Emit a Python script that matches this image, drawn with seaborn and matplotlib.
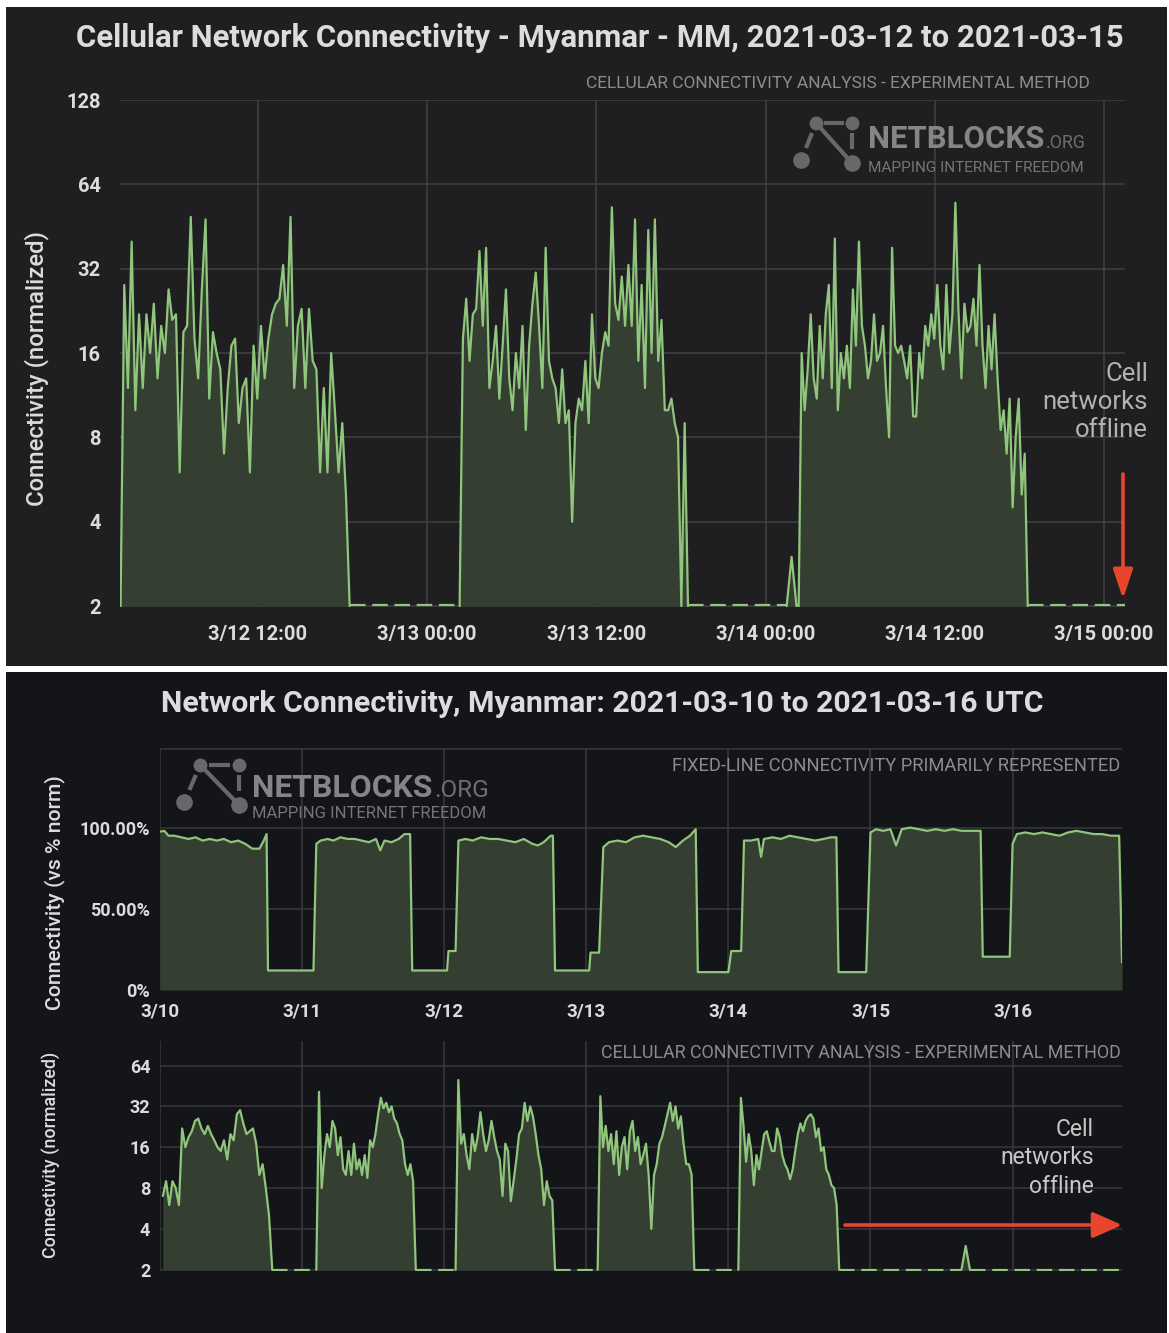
import numpy as np
import matplotlib
matplotlib.use('Agg')
import matplotlib.pyplot as plt
import seaborn as sns
from matplotlib import font_manager as fm
from matplotlib.lines import Line2D
from matplotlib.patches import Rectangle, FancyArrowPatch

# ---------------- data ----------------
# top chart: hours since 2021-03-12 00:00, cellular connectivity (normalized, log2 axis)
top_tick_hours = [12, 24, 36, 48, 60, 72]
top_tick_labels = ['3/12 12:00', '3/13 00:00', '3/13 12:00', '3/14 00:00', '3/14 12:00', '3/15 00:00']
top_yticks = [2, 4, 8, 16, 32, 64, 128]

day1_span = (2.25, 18.5)
day1_vals = [2, 28, 12, 40, 10, 22, 12, 22, 16, 24, 13, 20, 16, 27, 21, 22, 6, 19, 20, 49, 18, 13, 27, 48,
             11, 19, 16, 14, 7, 12, 17, 18, 9, 12, 13, 6, 17, 11, 20, 13, 18, 22, 24, 25, 33, 20, 49, 12,
             20, 23, 12, 23, 15, 14, 6, 12, 6, 16, 10, 6, 9, 5, 2]
day2_span = (26.3, 42.5)
day2_vals = [2, 18, 25, 15, 22, 23, 37, 20, 38, 12, 15, 20, 11, 17, 27, 13, 10, 16, 12, 20, 8.5, 17, 24, 31,
             20, 12, 38, 15, 13, 12, 9, 14, 9, 10, 4, 9, 11, 10, 15, 9, 22, 13, 12, 16, 19, 17, 53, 24, 21,
             30, 20, 33, 20, 48, 15, 28, 12, 44, 16, 48, 15, 21, 10, 10, 11, 9, 8, 2, 9, 2]
day3_span = (50.35, 66.6)
day3_vals = [2, 16, 10, 14, 22, 13, 11, 20, 13, 22, 28, 12, 41, 10, 16, 13, 17, 12, 27, 17, 40, 20, 17, 13,
             15, 22, 15, 16, 20, 12, 8, 38, 17, 16, 17, 15, 13, 17, 9.5, 9.5, 16, 13, 20, 17, 22, 18, 28,
             17, 14, 28, 16, 22, 55, 23, 13, 24, 19, 20, 25, 17, 33, 17, 12, 20, 14, 22, 13, 8.5, 10, 7,
             11, 4.5, 8, 11, 5, 7, 2]
top_bump_hours = [49.5, 49.85, 50.2]
top_bump_vals = [2, 3, 2]
top_offline = [(2.21, 2.25), (18.5, 26.3), (42.5, 49.5), (50.2, 50.35), (66.6, 73.5)]

# bottom charts: days since 2021-03-10 00:00
bot_tick_days = [0, 1, 2, 3, 4, 5, 6]
bot_tick_labels = ['3/10', '3/11', '3/12', '3/13', '3/14', '3/15', '3/16']

fixed_days = [0.00, 0.03, 0.06, 0.10, 0.15, 0.20, 0.25, 0.30, 0.35, 0.40, 0.45, 0.50, 0.55, 0.60, 0.65, 0.70, 0.73, 0.75, 0.76,
              1.08, 1.10, 1.13, 1.18, 1.22, 1.27, 1.32, 1.37, 1.42, 1.47, 1.52, 1.55, 1.58, 1.63, 1.68, 1.72, 1.76, 1.775,
              2.02, 2.03, 2.08, 2.10, 2.15, 2.20, 2.26, 2.32, 2.38, 2.44, 2.50, 2.56, 2.62, 2.66, 2.70, 2.75, 2.765, 2.78,
              3.02, 3.03, 3.09, 3.12, 3.16, 3.22, 3.28, 3.34, 3.40, 3.46, 3.52, 3.58, 3.63, 3.68, 3.73, 3.77, 3.785,
              4.00, 4.02, 4.09, 4.11, 4.16, 4.21, 4.23, 4.25, 4.31, 4.37, 4.43, 4.49, 4.55, 4.61, 4.67, 4.72, 4.76, 4.775,
              4.97, 5.00, 5.04, 5.09, 5.14, 5.18, 5.22, 5.28, 5.34, 5.40, 5.46, 5.52, 5.58, 5.64, 5.70, 5.775, 5.79,
              5.98, 6.00, 6.03, 6.09, 6.15, 6.21, 6.27, 6.33, 6.39, 6.45, 6.51, 6.57, 6.63, 6.69, 6.75, 6.77]
fixed_pct = [97.5, 98, 95, 95, 94, 93, 94, 92, 93, 92, 93, 91, 92, 90, 87, 87, 92, 96, 12,
             12, 90, 92, 93, 92, 94, 93, 93, 92, 91, 93, 86, 92, 91, 93, 96, 96, 12,
             12, 24, 24, 92, 93, 92, 94, 93, 93, 92, 91, 93, 90, 89, 91, 95, 95, 12,
             12, 23, 23, 88, 91, 92, 91, 94, 95, 94, 93, 91, 88, 92, 95, 99, 11,
             11, 24, 24, 92, 92, 93, 82, 93, 94, 93, 95, 94, 93, 92, 93, 94, 94, 11,
             11, 97, 99, 98, 99, 89, 99, 100, 99, 98, 99, 98, 99, 98, 98, 98, 20.5,
             20.5, 90, 96, 97, 96, 97, 96, 95, 97, 98, 97, 96, 96, 95, 95, 17]

cell_d1_span = (0.02, 0.79)
cell_d1 = [7, 9, 6, 9, 8, 6, 22, 16, 19, 21, 25, 26, 22, 20, 23, 20, 18, 16, 15, 18, 13, 20, 18, 28, 30, 24,
           20, 21, 22, 17, 10, 12, 8, 5, 2]
cell_d2_span = (1.10, 1.80)
cell_d2 = [2, 41, 8, 14, 20, 16, 25, 22, 14, 19, 11, 10, 15, 10, 17, 11, 13, 10, 14, 9.5, 18, 16, 20, 28, 37,
           31, 34, 29, 32, 26, 24, 20, 18, 12, 10, 12, 9, 2]
cell_d3_span = (2.08, 2.78)
cell_d3 = [2, 50, 17, 20, 14, 11, 20, 15, 19, 29, 20, 15, 18, 25, 19, 15, 13, 7, 17, 15, 6.4, 9, 13, 20, 22,
           34, 25, 32, 27, 20, 14, 11, 6, 9, 7, 6.5, 2]
cell_d4_span = (3.08, 3.76)
cell_d4 = [2, 38, 16, 23, 15, 20, 12, 21, 10, 16, 19, 11, 21, 25, 15, 19, 12, 14, 17, 10, 4, 10, 12, 17, 19,
           23, 28, 34, 25, 32, 22, 27, 17, 12, 12, 10, 2]
cell_d5_span = (4.07, 4.78)
cell_d5 = [2, 37, 23, 12.5, 20, 15, 8.4, 14, 11, 15, 20, 21, 17.5, 15, 15, 22, 19, 14, 12, 11, 9.3, 11, 15, 20,
           24, 21, 25, 27, 28, 26, 19, 22, 15, 16, 11, 10, 8.4, 8, 6, 2]
bot_bump_days = [5.64, 5.67, 5.70]
bot_bump_vals = [2, 3, 2]
bot_offline = [(0.79, 1.10), (1.80, 2.08), (2.78, 3.08), (3.76, 4.07), (4.78, 5.64), (5.70, 6.77)]
bot_yticks = [2, 4, 8, 16, 32, 64]

# ---------------- style ----------------
sns.set_style('dark')
plt.rcParams['font.family'] = ['Roboto', 'DejaVu Sans']
names = {f.name for f in fm.fontManager.ttflist}
NARROW = 'Liberation Sans Narrow' if 'Liberation Sans Narrow' in names else 'Roboto'

TOP_BG = '#1f1f21'
BOT_BG = '#141518'
LINE = '#8fc57c'
FILL = '#353f31'
GRID = '#414144'
TXT = '#dcdcdc'
SUB = '#8c8c8c'
WM = '#68686a'
RED = '#e8452f'

W, H = 1169, 1333
def fx(px):
    return px / W
def fy(py):
    return 1 - py / H

fig = plt.figure(figsize=(11.69, 13.33), dpi=100)
fig.patch.set_facecolor('white')
fig.add_artist(Rectangle((fx(6), fy(666)), fx(1167) - fx(6), fy(7) - fy(666), transform=fig.transFigure,
                         facecolor=TOP_BG, edgecolor='none', zorder=-5))
fig.add_artist(Rectangle((fx(6), fy(1333)), fx(1167) - fx(6), fy(672) - fy(1333), transform=fig.transFigure,
                         facecolor=BOT_BG, edgecolor='none', zorder=-5))
renderer = fig.canvas.get_renderer()


def fit(t, size_px, vertical=False):
    # scale a text so its extent matches the size measured on the reference
    bb = t.get_window_extent(renderer=renderer)
    cur = bb.height if vertical else bb.width
    t.set_fontsize(t.get_fontsize() * size_px / cur)
    return t


def style_axes(ax, gridc):
    ax.set_facecolor('none')
    for s in ax.spines.values():
        s.set_visible(False)
    ax.grid(True, color=gridc, lw=1.1)
    ax.tick_params(length=0, colors=TXT)


def draw_seg(ax, t, v, floor):
    sns.lineplot(x=t, y=v, ax=ax, color=LINE, lw=1.6, estimator=None, sort=False, zorder=3)
    ax.fill_between(t, v, floor, color=FILL, lw=0, zorder=2)


def draw_offline(ax, spans, level):
    for a, b in spans:
        ax.plot([a, b], [level, level], color=LINE, lw=1.6, dashes=(7, 3), zorder=3)


def logo(x0, y0, sx, sy):
    pts = {'tl': (x0 + 15 * sx, y0), 'tr': (x0 + 51 * sx, y0),
           'bl': (x0, y0 + 37 * sy), 'br': (x0 + 51 * sx, y0 + 40 * sy)}
    segs = [(pts['tl'], pts['br']),
            ((x0 + 23 * sx, y0), (x0 + 43 * sx, y0)),
            ((x0 + 51 * sx, y0 + 10 * sy), (x0 + 51 * sx, y0 + 26 * sy)),
            ((x0 + 11 * sx, y0 + 10 * sy), (x0 + 5 * sx, y0 + 25 * sy))]
    for (a, b) in segs:
        fig.add_artist(Line2D([fx(a[0]), fx(b[0])], [fy(a[1]), fy(b[1])], transform=fig.transFigure,
                              color=WM, lw=3, solid_capstyle='butt'))
    for k, ms in [('tl', 10), ('tr', 10), ('bl', 12), ('br', 12)]:
        fig.add_artist(Line2D([fx(pts[k][0])], [fy(pts[k][1])], transform=fig.transFigure,
                              marker='o', ms=ms, color=WM, mec='none', lw=0))


def wordmark(x0, ybase, w_main, w_org, w_tag, y_tag):
    t = fig.text(fx(x0), fy(ybase), 'NETBLOCKS', family=NARROW, weight='bold', fontsize=30,
                 color='#858587', ha='left', va='baseline')
    fit(t, w_main)
    o = fig.text(fx(x0 + w_main + 2), fy(ybase), '.ORG', family=NARROW, fontsize=20,
                 color='#6e6e70', ha='left', va='baseline')
    fit(o, w_org)
    g = fig.text(fx(x0), fy(y_tag), 'MAPPING INTERNET FREEDOM', family=NARROW, fontsize=14,
                 color='#767678', ha='left', va='baseline')
    fit(g, w_tag)


# ---------------- top panel ----------------
ax1 = fig.add_axes([fx(120), fy(607), fx(1125) - fx(120), fy(100) - fy(607)])
style_axes(ax1, GRID)
ax1.set_yscale('log', base=2)
for span, vals in [(day1_span, day1_vals), (day2_span, day2_vals), (day3_span, day3_vals)]:
    t = np.linspace(span[0], span[1], len(vals))
    draw_seg(ax1, t, vals, 2)
draw_seg(ax1, top_bump_hours, top_bump_vals, 2)
draw_offline(ax1, top_offline, 2.01)
ax1.set_xlim(2.21, 73.5)
ax1.set_ylim(1.985, 128)
ax1.set_yticks(top_yticks)
ax1.set_yticklabels([str(v) for v in top_yticks])
ax1.yaxis.set_minor_locator(matplotlib.ticker.NullLocator())
ax1.set_xticks(top_tick_hours)
ax1.set_xticklabels(top_tick_labels)
ax1.tick_params(axis='x', pad=13, labelsize=14.5)
ax1.tick_params(axis='y', pad=14, labelsize=14.5)
for lab in ax1.get_xticklabels() + ax1.get_yticklabels():
    lab.set_fontweight('bold')
ax1.set_xlabel('')
ax1.set_ylabel('')

t = fig.text(fx(600), fy(38), 'Cellular Network Connectivity - Myanmar - MM, 2021-03-12 to 2021-03-15',
             ha='center', va='center', fontsize=20.5, weight='bold', color=TXT)
fit(t, 1053)
t = fig.text(fx(1090), fy(84), 'CELLULAR CONNECTIVITY ANALYSIS - EXPERIMENTAL METHOD', family=NARROW,
             ha='right', va='center', fontsize=12.5, color=SUB)
fit(t, 505)
t = fig.text(fx(37), fy(368), 'Connectivity (normalized)', rotation=90, ha='center', va='center',
             fontsize=15.5, color=TXT, weight='medium')
fit(t, 275, vertical=True)
fig.text(fx(1148), fy(402), 'Cell\nnetworks\noffline', ha='right', va='center', multialignment='right',
         fontsize=18.5, color='#b2b2b2', linespacing=1.22)
fig.add_artist(FancyArrowPatch((fx(1123), fy(474)), (fx(1123), fy(599)), transform=fig.transFigure,
                               arrowstyle='-|>,head_length=0.9,head_width=0.3', mutation_scale=20,
                               color=RED, lw=2.6, shrinkA=0, shrinkB=0))
logo(801, 123, 1.0, 1.0)
wordmark(868, 148, 176, 40, 218, 172)

# ---------------- bottom panel ----------------
t = fig.text(fx(602), fy(704), 'Network Connectivity, Myanmar: 2021-03-10 to 2021-03-16 UTC',
             ha='center', va='center', fontsize=20, weight='bold', color=TXT)
fit(t, 881)

ax2 = fig.add_axes([fx(160), fy(990), fx(1122) - fx(160), fy(748) - fy(990)])
style_axes(ax2, '#38393c')
draw_seg(ax2, fixed_days, fixed_pct, 0)
ax2.set_xlim(0, 6.77)
ax2.set_ylim(0, 149)
ax2.set_yticks([0, 50, 100, 148.5])
ax2.set_yticklabels(['0%', '50.00%', '100.00%', ''])
ax2.set_xticks(bot_tick_days)
ax2.set_xticklabels(bot_tick_labels)
ax2.tick_params(axis='x', pad=9, labelsize=13.5)
ax2.tick_params(axis='y', pad=7, labelsize=13)
for lab in ax2.get_xticklabels() + ax2.get_yticklabels():
    lab.set_fontweight('bold')
ax2.set_xlabel('')
ax2.set_ylabel('')
t = fig.text(fx(1120), fy(766), 'FIXED-LINE CONNECTIVITY PRIMARILY REPRESENTED', family=NARROW,
             ha='right', va='center', fontsize=12, color=SUB)
fit(t, 447)
t = fig.text(fx(55), fy(893), 'Connectivity (vs % norm)', rotation=90, ha='center', va='center',
             fontsize=14, color=TXT, weight='medium')
fit(t, 237, vertical=True)
logo(184, 765, 1.08, 1.0)
wordmark(252, 797, 180, 55, 235, 818)

ax3 = fig.add_axes([fx(160), fy(1271), fx(1122) - fx(160), fy(1041) - fy(1271)])
style_axes(ax3, '#38393c')
ax3.set_yscale('log', base=2)
for span, vals in [(cell_d1_span, cell_d1), (cell_d2_span, cell_d2), (cell_d3_span, cell_d3),
                   (cell_d4_span, cell_d4), (cell_d5_span, cell_d5)]:
    t = np.linspace(span[0], span[1], len(vals))
    draw_seg(ax3, t, vals, 2)
draw_seg(ax3, bot_bump_days, bot_bump_vals, 2)
draw_offline(ax3, bot_offline, 2.01)
ax3.set_xlim(0, 6.77)
ax3.set_ylim(1.96, 97)
ax3.set_yticks(bot_yticks)
ax3.set_yticklabels([str(v) for v in bot_yticks])
ax3.yaxis.set_minor_locator(matplotlib.ticker.NullLocator())
ax3.set_xticks(bot_tick_days)
ax3.set_xticklabels([])
ax3.tick_params(axis='y', pad=7, labelsize=13)
for lab in ax3.get_yticklabels():
    lab.set_fontweight('bold')
ax3.set_xlabel('')
ax3.set_ylabel('')
t = fig.text(fx(1121), fy(1053), 'CELLULAR CONNECTIVITY ANALYSIS - EXPERIMENTAL METHOD', family=NARROW,
             ha='right', va='center', fontsize=12.5, color=SUB)
fit(t, 520)
t = fig.text(fx(52), fy(1155), 'Connectivity (normalized)', rotation=90, ha='center', va='center',
             fontsize=12, color=TXT, weight='medium')
fit(t, 205, vertical=True)
fig.text(fx(1094), fy(1158), 'Cell\nnetworks\noffline', ha='right', va='center', multialignment='right',
         fontsize=16.5, color='#c8c8c8', linespacing=1.28)
fig.add_artist(FancyArrowPatch((fx(845), fy(1225)), (fx(1122), fy(1225)), transform=fig.transFigure,
                               arrowstyle='-|>,head_length=0.9,head_width=0.4', mutation_scale=20,
                               color=RED, lw=2.6, shrinkA=0, shrinkB=0))

fig.savefig('out.png', dpi=100)
